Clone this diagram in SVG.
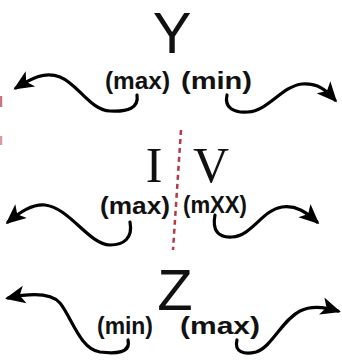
<svg xmlns="http://www.w3.org/2000/svg" width="342" height="361" viewBox="0 0 342 361">
<defs>
<marker id="ah" viewBox="0 0 20 20" refX="17" refY="10" markerWidth="20" markerHeight="20" markerUnits="userSpaceOnUse" orient="auto">
<path d="M0,1 L20,10 L0,19 L5,10 z" fill="#000"/>
</marker>
<style>
.big{font-family:"Liberation Sans",Arial,sans-serif;font-size:58px;fill:#111;text-anchor:middle}
.ser{font-family:"Liberation Serif","Times New Roman",serif;font-size:50px;fill:#111;text-anchor:middle}
.lbl{font-family:"Liberation Sans",Arial,sans-serif;font-size:24px;font-weight:bold;fill:#111}
.con{fill:none;stroke:#000;stroke-width:3.2;stroke-linecap:round;marker-end:url(#ah)}
.red{fill:none;stroke:#b23a4a;stroke-width:2.5}
</style>
</defs>
<rect width="342" height="361" fill="#fff"/>
<g id="marks">
<path class="red" d="M1,96 L1,107" opacity="0.7"/>
<path class="red" d="M1,136 L1,145" opacity="0.5"/>
<path id="divider" class="red" d="M181,130 L173,250" stroke-dasharray="5 4"/>
</g>
<g id="node-Y">
<text class="big" x="172" y="53">Y</text>
<text class="lbl" x="105" y="89" textLength="65" lengthAdjust="spacingAndGlyphs">(max)</text>
<text class="lbl" x="181" y="89" textLength="71" lengthAdjust="spacingAndGlyphs">(min)</text>
</g>
<g id="node-IV">
<text class="ser" x="154" y="182">I</text>
<text class="ser" x="211" y="182">V</text>
<text class="lbl" x="100" y="214" textLength="70" lengthAdjust="spacingAndGlyphs">(max)</text>
<text class="lbl" x="183" y="213" textLength="64" lengthAdjust="spacingAndGlyphs">(mXX)</text>
</g>
<g id="node-Z">
<text class="big" x="175" y="310">Z</text>
<text class="lbl" x="97" y="334" textLength="56" lengthAdjust="spacingAndGlyphs">(min)</text>
<text class="lbl" x="180" y="334" textLength="80" lengthAdjust="spacingAndGlyphs">(max)</text>
</g>
<g id="connectors">
<path class="con" d="M137,95 C139,108 128,112 110,111 C90,110 78,84 60,77 C45,71 32,78 16,88"/>
<path class="con" d="M227,95 C224,108 234,113 248,112 C268,111 282,86 302,84 C318,83 326,90 335,100"/>
<path class="con" d="M130,222 C133,238 124,245 110,245 C88,244 70,208 45,205 C32,204 20,212 8,222"/>
<path class="con" d="M215,215 C212,230 218,238 232,237 C252,236 262,210 282,207 C296,205 306,212 317,222"/>
<path class="con" d="M128,340 C131,353 116,354 100,352 C80,349 72,318 60,303 C52,294 36,292 8,298"/>
<path class="con" d="M237,340 C234,352 244,355 256,352 C272,347 282,320 300,311 C312,305 325,307 338,311"/>
</g>
</svg>
